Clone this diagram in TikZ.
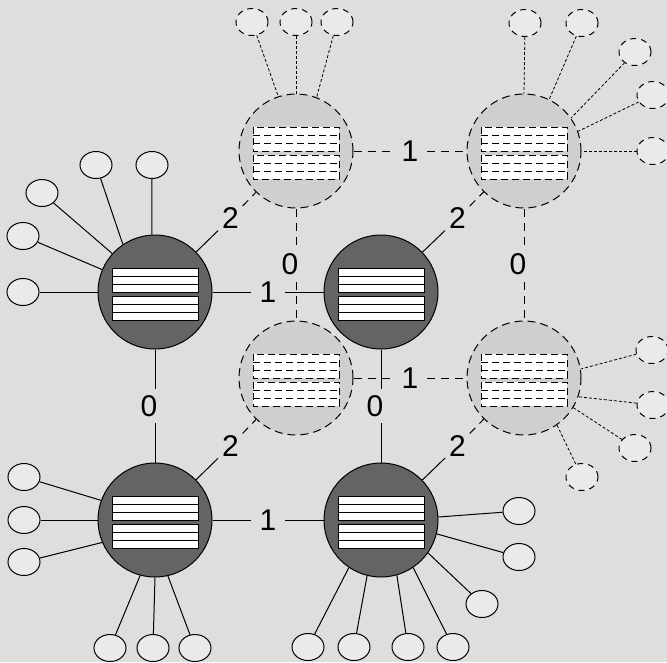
\documentclass[tikz,border=0pt]{standalone}
\usepackage{fontspec}
\setmainfont{Liberation Sans}
\usetikzlibrary{calc,shapes.geometric}

\definecolor{backdrop}{RGB}{222,222,220}
\definecolor{swdark}{RGB}{100,100,100}
\definecolor{swlight}{RGB}{207,207,207}
\definecolor{hostfill}{RGB}{234,234,234}

\tikzset{
	live/.style={circle, draw, fill=swdark, minimum size=114pt, inner sep=0pt},
	ghost/.style={circle, draw, fill=swlight, minimum size=114pt, inner sep=0pt, dash pattern=on 8pt off 5pt},
	host/.style={ellipse, draw, fill=hostfill, minimum width=32pt, minimum height=27pt, inner sep=0pt},
	ghosthost/.style={host, dash pattern=on 6pt off 5pt},
	hostdash/.style={line width=0.8pt, dash pattern=on 3pt off 2pt},
	linkdash/.style={dash pattern=on 8pt off 6pt},
	boxdash/.style={dash pattern=on 7pt off 4pt},
	dim/.style={circle, inner sep=2.5pt, font=\fontsize{30}{32}\selectfont}
}

\begin{document}
\begin{tikzpicture}[x=1pt, y=-1pt, line width=1pt]
	\useasboundingbox (0,0) rectangle (667,662);
	\fill[backdrop] (0,0) rectangle (667,662);
	\clip (0,0) rectangle (667,662);
	% switches: sw0..sw3 front (solid), sw4..sw7 back (dashed)
	\node[ghost] (sw5) at (296,151) {};
	\node[ghost] (sw7) at (524,151) {};
	\node[ghost] (sw4) at (296,378) {};
	\node[ghost] (sw6) at (524,378) {};
	\node[live] (sw1) at (155,292) {};
	\node[live] (sw3) at (381,292) {};
	\node[live] (sw0) at (155,520) {};
	\node[live] (sw2) at (381,520) {};
	% port boxes
	\foreach \s in {sw0,sw1,sw2,sw3} {
		\begin{scope}[shift={(\s.center)}]
			\foreach \t in {-24,4} {
				\draw[fill=white] (-43,\t) rectangle (43,\t+24);
				\draw (-43,\t+8) -- (43,\t+8) (-43,\t+16) -- (43,\t+16);
			}
		\end{scope}
	}
	\foreach \s in {sw4,sw5,sw6,sw7} {
		\begin{scope}[shift={(\s.center)}]
			\foreach \t in {-24,4} {
				\fill[white] (-43,\t) rectangle (43,\t+24);
				\draw[boxdash] (-43,\t) rectangle (43,\t+24);
				\draw[boxdash] (-43,\t+8) -- (43,\t+8) (-43,\t+16) -- (43,\t+16);
			}
		\end{scope}
	}
	% hosts on the front switches
	\foreach \x/\y/\a [count=\i] in {96/165/124, 152/165/93, 42/193/138, 23/236/157, 23/292/180} {
		\node[host] (ha\i) at (\x,\y) {};
		\draw (ha\i) -- (sw1.\a);
	}
	\foreach \x/\y/\a [count=\i] in {24/477/160, 24/520/180, 24/562/203, 110/648/255, 153/648/270, 195/648/283} {
		\node[host] (hb\i) at (\x,\y) {};
		\draw (hb\i) -- (sw0.\a);
	}
	\foreach \x/\y/\a [count=\i] in {519/511/3, 519/557/346, 482/604/325, 308/647/236, 354/647/256, 408/647/286, 453/647/304} {
		\node[host] (hc\i) at (\x,\y) {};
		\draw (hc\i) -- (sw2.\a);
	}
	% hosts on the back switches
	\foreach \x/\y/\a [count=\i] in {252/22/108, 296/22/90, 337/22/69} {
		\node[ghosthost] (hd\i) at (\x,\y) {};
		\draw[hostdash] (hd\i) -- (sw5.\a);
	}
	\foreach \x/\y/\a [count=\i] in {525/23/90, 582/23/64, 635/52/35, 653/95/20, 653/151/0} {
		\node[ghosthost] (he\i) at (\x,\y) {};
		\draw[hostdash] (he\i) -- (sw7.\a);
	}
	\foreach \x/\y/\a [count=\i] in {652/350/9, 653/405/341, 635/448/329, 582/477/305} {
		\node[ghosthost] (hf\i) at (\x,\y) {};
		\draw[hostdash] (hf\i) -- (sw6.\a);
	}
	% back links (1 across, 0 down)
	\foreach \u/\v in {sw5/sw7, sw4/sw6} {
		\node[dim] (d\u\v) at ($(\u)!0.5!(\v)$) {1};
		\draw[linkdash] (\u) -- (d\u\v) -- (\v);
	}
	\foreach \u/\v in {sw5/sw4, sw7/sw6} {
		\node[dim] (d\u\v) at ($(\u)!0.5!(\v)+(-6,0)$) {0};
		\draw[linkdash] (\u) -- (\u |- d\u\v.north) (\v |- d\u\v.south) -- (\v);
	}
	% front links
	\foreach \u/\v in {sw1/sw3, sw0/sw2} {
		\node[dim] (d\u\v) at ($(\u)!0.5!(\v)$) {1};
		\draw (\u) -- (d\u\v) -- (\v);
	}
	\foreach \u/\v in {sw1/sw0, sw3/sw2} {
		\node[dim] (d\u\v) at ($(\u)!0.5!(\v)+(-6,0)$) {0};
		\draw (\u) -- (\u |- d\u\v.north) (\v |- d\u\v.south) -- (\v);
	}
	% front to back links
	\foreach \u/\v in {sw1/sw5, sw3/sw7, sw0/sw4, sw2/sw6} {
		\node[dim] (d\u\v) at ($(\u)!0.5!(\v)+(5,-3)$) {2};
		\draw (\u) -- (d\u\v);
		\draw[linkdash] (d\u\v) -- (\v);
	}
\end{tikzpicture}
\end{document}
